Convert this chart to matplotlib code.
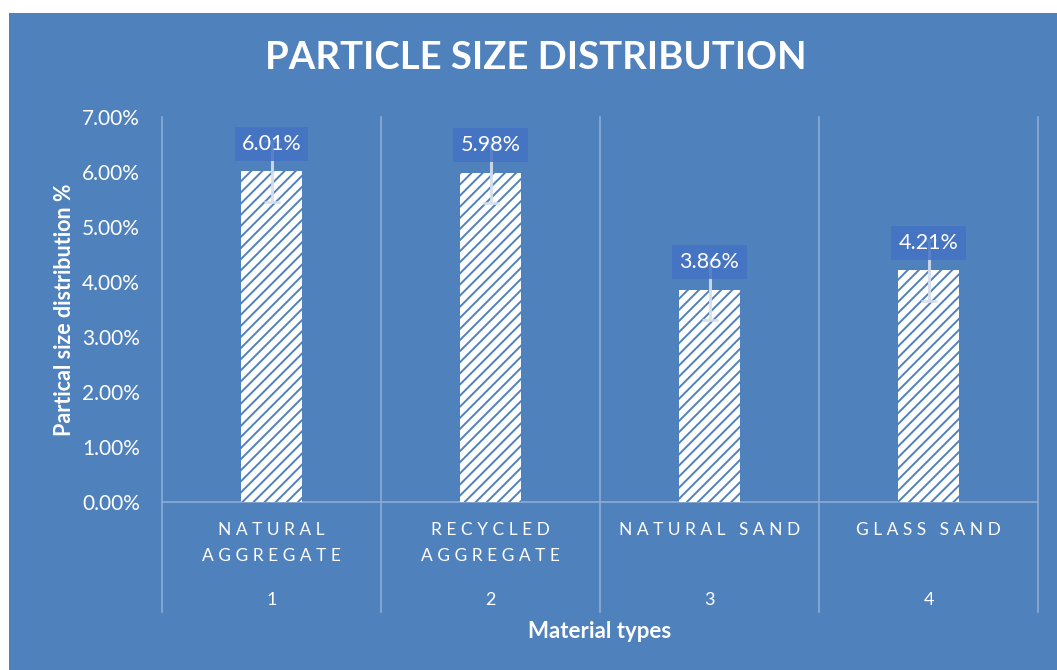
import numpy as np
import matplotlib.pyplot as plt
from matplotlib.patches import Rectangle

plt.rcParams['font.family'] = ['Lato', 'DejaVu Sans']
plt.rcParams['hatch.linewidth'] = 1.4

materials = ['NATURAL\nAGGREGATE', 'RECYCLED\nAGGREGATE', 'NATURAL SAND', 'GLASS SAND']
groups = ['1', '2', '3', '4']
values = [6.01, 5.98, 3.86, 4.21]      # percent
errors = [0.55, 0.55, 0.55, 0.55]      # percent
yticks = [0, 1, 2, 3, 4, 5, 6, 7]

bg = '#4F81BD'
boxc = '#4472C4'
grid = '#8EAAD6'

fig = plt.figure(figsize=(10.57, 6.7), dpi=100)
fig.patch.set_facecolor('white')
fig.patches.append(Rectangle((9/1057, 0), 1, 1 - 13/670, transform=fig.transFigure,
                             facecolor=bg, edgecolor='none', zorder=0))

ax = fig.add_axes([162/1057, 168/670, 876/1057, 385/670])
ax.set_zorder(2)
ax.set_facecolor('none')
x = np.arange(len(values)) + 0.5

ax.bar(x, values, width=0.28, facecolor='white', edgecolor=bg, hatch='///', linewidth=0, zorder=2)
ax.errorbar(x, values, yerr=errors, fmt='none', ecolor='#D5DFEE', elinewidth=2.2,
            capsize=6, capthick=2, alpha=0.9, zorder=3)
for xi, v in zip(x, values):
    ax.annotate('%.2f%%' % v, (xi, v), xytext=(0, 20), textcoords='offset points',
                ha='center', va='center', fontsize=15.5, color='white', zorder=4,
                bbox=dict(boxstyle='square,pad=0.33', facecolor=boxc, edgecolor='none', alpha=0.85))

ax.set_xlim(0, 4)
ax.set_ylim(0, 7)
ax.set_yticks(yticks)
ax.set_yticklabels(['%.2f%%' % t for t in yticks], color='white', fontsize=15)
ax.tick_params(axis='y', length=0, pad=16)
ax.set_xticks([])
for s in ax.spines.values():
    s.set_visible(False)

# category dividers run down through the two label rows
tr = ax.get_xaxis_transform()
for xv in range(5):
    ax.plot([xv, xv], [-110/385, 1], transform=tr, color=grid, lw=1.2, clip_on=False, zorder=1)
ax.plot([0, 4], [0, 0], transform=tr, color=grid, lw=1.2, clip_on=False, zorder=1)

def spaced(s):
    return '\n'.join('   '.join(' '.join(w) for w in line.split(' ')) for line in s.split('\n'))

for xi, m, g in zip(x, materials, groups):
    ax.text(xi, -20/385, spaced(m), transform=tr, ha='center', va='top', color='white',
            fontsize=12.5, linespacing=1.75)
    ax.text(xi, -98/385, g, transform=tr, ha='center', va='center', color='white', fontsize=13)

ax.set_ylabel('Partical size distribution %', color='white', fontsize=15.5, fontweight='bold', labelpad=5)
ax.text(0.5, -130/385, 'Material types', transform=ax.transAxes, ha='center', va='center',
        color='white', fontsize=16, fontweight='bold')
fig.text(536/1057, 1 - 58/670, 'PARTICLE SIZE DISTRIBUTION', ha='center', va='center',
         color='white', fontsize=27.5, fontweight='bold')

fig.savefig('out.png', dpi=100, facecolor=fig.get_facecolor())
